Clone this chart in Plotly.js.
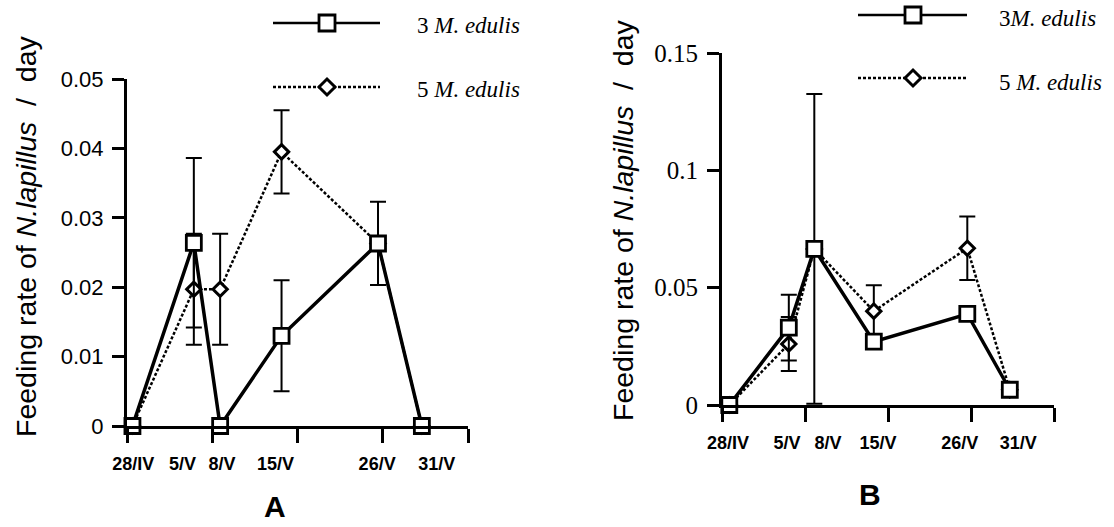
<!DOCTYPE html>
<html>
<head>
<meta charset="utf-8">
<script src="https://cdn.plot.ly/plotly-3.0.1.min.js"></script>
<style>html,body{margin:0;padding:0;background:#fff;}#chart{width:1114px;height:527px;}</style>
</head>
<body>
<div id="chart"></div>
<script>
// ---- data ----
const dateLabels = ['28/IV', '5/V', '8/V', '15/V', '26/V', '31/V'];
const dayOffsets = [0, 7, 10, 17, 28, 33];

const seriesNames = ['3 M. edulis', '5 M. edulis'];

// Panel A
const a3Mean = [0, 0.0264, 0, 0.0130, 0.0263, 0];
const a3Err  = [null, 0.0122, null, 0.0080, 0.0060, null];
const a5Mean = [0, 0.0197, 0.0197, 0.0395, 0.0263, 0];
const a5Err  = [null, 0.0080, 0.0080, 0.0060, null, null];

// Panel B
const b3Mean = [0, 0.0330, 0.0665, 0.0270, 0.0388, 0.0065];
const b3Err  = [null, 0.0140, 0.0660, null, null, null];
const b5Mean = [0, 0.0260, 0.0665, 0.0400, 0.0668, 0.0065];
const b5Err  = [null, 0.0115, null, 0.0110, 0.0135, null];

// ---- layout constants (where the date texts sit under each axis, in axis units) ----
const labelSpotsA = [0.1, 5.7, 10.2, 16.3, 27.9, 34.7];
const labelSpotsB = [-0.15, 6.8, 11.6, 17.5, 27.1, 34.0];

// ---- helpers ----
const W = 1114, H = 527;
const px = x => x / W;
const py = y => 1 - y / H;
const errArr = a => a.map(v => (v === null ? NaN : v));

const solidLine = {color: '#000', width: 3.5};
const dotLine = {color: '#000', width: 2.5, dash: '3px,2px'};
const squareMarker = {symbol: 'square', size: 15, color: '#fff', line: {color: '#000', width: 2.8}};
const diamondMarker = {symbol: 'diamond', size: 11, color: '#fff', line: {color: '#000', width: 3}};
const errStyle = {type: 'data', symmetric: true, color: '#000', thickness: 2, width: 8};

function series(x, y, err, xa, ya, line, marker, name) {
  return {
    type: 'scatter', mode: 'lines+markers', x: x, y: y, name: name,
    xaxis: xa, yaxis: ya, line: line, marker: marker, cliponaxis: false,
    error_y: Object.assign({array: errArr(err)}, errStyle), showlegend: false
  };
}
// invisible carrier so the date-label axes get drawn
function labelCarrier(xa, ya) {
  return {type: 'scatter', mode: 'markers', x: dayOffsets, y: dayOffsets.map(() => null),
    xaxis: xa, yaxis: ya, marker: {opacity: 0}, showlegend: false, hoverinfo: 'skip'};
}

const traces = [
  series(dayOffsets, a5Mean, a5Err, 'x', 'y', dotLine, diamondMarker, seriesNames[1]),
  series(dayOffsets, a3Mean, a3Err, 'x', 'y', solidLine, squareMarker, seriesNames[0]),
  series(dayOffsets, b5Mean, b5Err, 'x2', 'y2', dotLine, diamondMarker, seriesNames[1]),
  series(dayOffsets, b3Mean, b3Err, 'x2', 'y2', solidLine, squareMarker, seriesNames[0]),
  labelCarrier('x3', 'y'),
  labelCarrier('x4', 'y2')
];

// axis geometry
const aX = [127, 468], aY = [426, 79];
const bX = [722, 1054], bY = [405, 53];
const aRange = [-0.62, 38.26], bRange = [-0.86, 38.2];

const sansFont = 'Liberation Sans, Arial, Helvetica, sans-serif';
const serifFont = '"Liberation Serif", "Times New Roman", serif';
const narrowFont = '"Liberation Sans Narrow", "Arial Narrow", "Liberation Sans", Arial, sans-serif';

function mainX(dom, range, anchor, dt) {
  return {domain: [px(dom[0]), px(dom[1])], range: range, anchor: anchor,
    showline: true, linewidth: 3, linecolor: '#000', ticks: 'outside', ticklen: 14,
    tickwidth: 3, tickcolor: '#000', tickmode: 'linear', tick0: range[0] + 0.001, dtick: dt,
    showticklabels: false, showgrid: false, zeroline: false, fixedrange: true};
}
function labelX(range, overlay, anchor, spots) {
  return {overlaying: overlay, anchor: anchor, side: 'bottom', range: range, tickmode: 'array',
    tickvals: spots, ticktext: dateLabels, ticks: '', showline: false, tickangle: 0,
    showgrid: false, zeroline: false, ticklabelstandoff: 25, fixedrange: true,
    tickfont: {family: narrowFont, size: 18, color: '#000', weight: 'bold'}};
}
function mainY(dom, range, anchor, dt, font, size) {
  return {domain: [py(dom[0]), py(dom[1])], range: range, anchor: anchor,
    showline: true, linewidth: 3, linecolor: '#000', ticks: 'outside', ticklen: 12,
    tickwidth: 3, tickcolor: '#000', tickmode: 'linear', tick0: 0, dtick: dt,
    tickfont: {family: font, size: size, color: '#000'}, ticklabelstandoff: 4,
    showgrid: false, zeroline: false, fixedrange: true};
}

const shapes = [];
const annotations = [];
function legendRow(x0, x1, cx, cy, dotted, textX, textY, text) {
  shapes.push({type: 'line', xref: 'paper', yref: 'paper', x0: px(x0), x1: px(x1), y0: py(cy), y1: py(cy),
    line: dotted ? {color: '#000', width: 2.5, dash: '3px,2px'} : {color: '#000', width: 2.5}});
  if (!dotted) {
    shapes.push({type: 'rect', xref: 'paper', yref: 'paper', x0: px(cx - 8), x1: px(cx + 8),
      y0: py(cy + 8), y1: py(cy - 8), fillcolor: '#fff', line: {color: '#000', width: 2.8}});
  } else {
    const r = 8;
    const path = `M ${px(cx - r)},${py(cy)} L ${px(cx)},${py(cy - r)} L ${px(cx + r)},${py(cy)} L ${px(cx)},${py(cy + r)} Z`;
    shapes.push({type: 'path', xref: 'paper', yref: 'paper', path: path, fillcolor: '#fff',
      line: {color: '#000', width: 3}});
  }
  annotations.push({xref: 'paper', yref: 'paper', x: px(textX), y: py(textY), xanchor: 'left', yanchor: 'middle',
    showarrow: false, text: text, font: {family: serifFont, size: 23, color: '#000'}});
}
legendRow(273, 380, 327, 23, false, 415, 26, '3 <i>M. edulis</i>');
legendRow(273, 380, 327, 87, true, 415, 89, '5 <i>M. edulis</i>');
legendRow(858, 967, 913, 15, false, 997, 19, '3<i>M. edulis</i>');
legendRow(858, 967, 913, 78, true, 997, 82, '5 <i>M. edulis</i>');

const yTitle = 'Feeding rate of <i>N.lapillus</i>  /  day';
annotations.push({xref: 'paper', yref: 'paper', x: px(26), y: py(236), textangle: -90, showarrow: false,
  xanchor: 'center', yanchor: 'middle', text: yTitle, font: {family: sansFont, size: 28.5, color: '#000'}});
annotations.push({xref: 'paper', yref: 'paper', x: px(623), y: py(220), textangle: -90, showarrow: false,
  xanchor: 'center', yanchor: 'middle', text: yTitle, font: {family: sansFont, size: 28.5, color: '#000'}});
annotations.push({xref: 'paper', yref: 'paper', x: px(275), y: py(506), showarrow: false,
  xanchor: 'center', yanchor: 'middle', text: '<b>A</b>', font: {family: sansFont, size: 30, color: '#000'}});
annotations.push({xref: 'paper', yref: 'paper', x: px(870), y: py(494), showarrow: false,
  xanchor: 'center', yanchor: 'middle', text: '<b>B</b>', font: {family: sansFont, size: 30, color: '#000'}});

const layout = {
  width: W, height: H, margin: {l: 0, r: 0, t: 0, b: 0},
  paper_bgcolor: '#fff', plot_bgcolor: 'rgba(0,0,0,0)', showlegend: false,
  xaxis: mainX(aX, aRange, 'y', 9.72),
  yaxis: mainY(aY, [0, 0.05], 'x', 0.01, sansFont, 22),
  xaxis2: mainX(bX, bRange, 'y2', 9.765),
  yaxis2: mainY(bY, [0, 0.15], 'x2', 0.05, serifFont, 25),
  xaxis3: labelX(aRange, 'x', 'y', labelSpotsA),
  xaxis4: labelX(bRange, 'x2', 'y2', labelSpotsB),
  shapes: shapes, annotations: annotations
};

Plotly.newPlot('chart', traces, layout, {staticPlot: true, displayModeBar: false});
</script>
</body>
</html>
